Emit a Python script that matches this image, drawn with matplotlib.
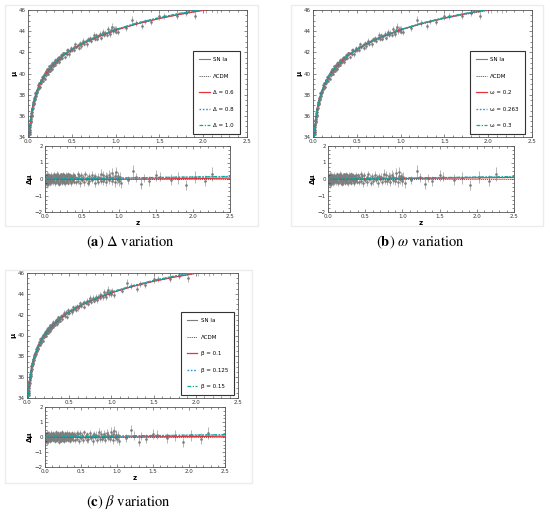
import numpy as np
import matplotlib
matplotlib.use('Agg')
from matplotlib import pyplot as plt
from matplotlib.lines import Line2D
from matplotlib.patches import Rectangle

# SN Ia sample: redshift, residual w.r.t. LCDM, error
z_low = [0.010, 0.012, 0.014, 0.015, 0.016, 0.018, 0.019, 0.021, 0.023, 0.024,
         0.026, 0.027, 0.029, 0.031, 0.032, 0.034, 0.036, 0.038, 0.040, 0.042,
         0.044, 0.046, 0.048, 0.050, 0.053, 0.055, 0.058, 0.060, 0.063, 0.066,
         0.069, 0.072, 0.075, 0.078, 0.081, 0.085, 0.088, 0.091, 0.095, 0.098]
dmu_low = [0.12, -0.18, 0.05, -0.25, 0.21, -0.08, 0.15, -0.31, 0.02, 0.18,
           -0.12, 0.27, -0.05, 0.09, -0.22, 0.14, -0.02, 0.24, -0.15, 0.07,
           -0.28, 0.11, 0.01, -0.09, 0.19, -0.17, 0.06, 0.22, -0.11, 0.03,
           -0.24, 0.16, -0.04, 0.10, -0.19, 0.25, -0.07, 0.13, -0.14, 0.04]
err_low = [0.14, 0.18, 0.12, 0.20, 0.15, 0.13, 0.17, 0.22, 0.12, 0.16,
           0.14, 0.19, 0.13, 0.15, 0.21, 0.12, 0.16, 0.18, 0.14, 0.13,
           0.20, 0.15, 0.12, 0.17, 0.14, 0.19, 0.13, 0.16, 0.15, 0.12,
           0.18, 0.14, 0.13, 0.17, 0.15, 0.20, 0.12, 0.16, 0.14, 0.13]

z_mid = [0.102, 0.106, 0.110, 0.114, 0.118, 0.122, 0.126, 0.130, 0.134, 0.138,
         0.142, 0.146, 0.150, 0.154, 0.158, 0.162, 0.166, 0.170, 0.174, 0.178,
         0.182, 0.186, 0.190, 0.194, 0.198, 0.202, 0.206, 0.210, 0.214, 0.218,
         0.222, 0.226, 0.230, 0.234, 0.238, 0.242, 0.246, 0.250, 0.254, 0.258,
         0.262, 0.266, 0.270, 0.274, 0.278, 0.282, 0.286, 0.290, 0.294, 0.298,
         0.303, 0.308, 0.313, 0.318, 0.323, 0.328, 0.333, 0.338, 0.343, 0.348,
         0.353, 0.358, 0.363, 0.368, 0.373, 0.378, 0.383, 0.388, 0.393, 0.398]
dmu_mid = [0.08, -0.21, 0.17, -0.06, 0.29, -0.14, 0.03, 0.22, -0.26, 0.11,
           -0.03, 0.19, -0.17, 0.06, 0.31, -0.09, 0.14, -0.23, 0.02, 0.25,
           -0.12, 0.09, -0.30, 0.16, -0.01, 0.21, -0.18, 0.05, 0.28, -0.07,
           0.12, -0.24, 0.18, -0.04, 0.33, -0.13, 0.07, -0.20, 0.23, 0.00,
           -0.16, 0.15, -0.27, 0.10, 0.26, -0.05, 0.13, -0.19, 0.20, -0.10,
           0.04, 0.30, -0.22, 0.09, -0.08, 0.17, -0.15, 0.24, -0.02, 0.11,
           -0.25, 0.19, 0.06, -0.12, 0.27, -0.06, 0.14, -0.18, 0.08, 0.22]
err_mid = [0.12, 0.14, 0.11, 0.15, 0.13, 0.12, 0.16, 0.11, 0.14, 0.13,
           0.12, 0.15, 0.13, 0.11, 0.17, 0.12, 0.14, 0.13, 0.12, 0.16,
           0.13, 0.11, 0.15, 0.12, 0.14, 0.13, 0.16, 0.12, 0.11, 0.14,
           0.15, 0.12, 0.13, 0.17, 0.12, 0.14, 0.11, 0.15, 0.13, 0.12,
           0.16, 0.13, 0.14, 0.12, 0.15, 0.13, 0.11, 0.14, 0.16, 0.12,
           0.13, 0.15, 0.12, 0.14, 0.13, 0.17, 0.12, 0.15, 0.14, 0.13,
           0.16, 0.12, 0.14, 0.15, 0.13, 0.12, 0.17, 0.14, 0.13, 0.15]

z_far = [0.41, 0.42, 0.43, 0.44, 0.45, 0.46, 0.47, 0.48, 0.49, 0.50,
         0.52, 0.53, 0.54, 0.55, 0.57, 0.58, 0.59, 0.60, 0.62, 0.63,
         0.64, 0.66, 0.67, 0.68, 0.70, 0.71, 0.72, 0.74, 0.75, 0.76,
         0.78, 0.79, 0.80, 0.82, 0.83, 0.84, 0.86, 0.87, 0.88, 0.90,
         0.91, 0.92, 0.94, 0.95, 0.96, 0.97, 0.98, 0.99, 1.00, 1.01]
dmu_far = [0.15, -0.20, 0.06, 0.28, -0.11, 0.19, -0.27, 0.02, 0.24, -0.08,
           0.13, -0.17, 0.31, -0.02, 0.09, -0.22, 0.18, -0.13, 0.04, 0.26,
           -0.06, 0.12, -0.25, 0.20, -0.01, 0.15, -0.18, 0.07, 0.33, -0.10,
           0.22, -0.15, 0.03, 0.17, -0.21, 0.10, 0.27, -0.05, 0.14, -0.12,
           0.36, 0.05, -0.19, 0.21, 0.42, -0.03, 0.16, 0.08, -0.14, 0.11]
err_far = [0.16, 0.19, 0.15, 0.21, 0.17, 0.18, 0.22, 0.16, 0.20, 0.17,
           0.19, 0.23, 0.18, 0.16, 0.21, 0.20, 0.18, 0.24, 0.17, 0.22,
           0.19, 0.21, 0.25, 0.18, 0.20, 0.23, 0.19, 0.22, 0.26, 0.20,
           0.24, 0.21, 0.23, 0.27, 0.22, 0.25, 0.28, 0.23, 0.26, 0.24,
           0.29, 0.25, 0.27, 0.30, 0.33, 0.26, 0.28, 0.31, 0.27, 0.30]

z_hst = [1.03, 1.12, 1.19, 1.23, 1.30, 1.34, 1.40, 1.50, 1.55, 1.70, 1.80, 1.91, 2.03, 2.16, 2.26]
dmu_hst = [-0.25, -0.08, 0.48, 0.10, -0.30, 0.05, -0.12, 0.22, 0.15, -0.05, 0.08, -0.35, 0.12, -0.10, 0.30]
err_hst = [0.30, 0.25, 0.35, 0.28, 0.32, 0.26, 0.30, 0.34, 0.29, 0.33, 0.36, 0.31, 0.38, 0.35, 0.40]

# LCDM distance modulus
z_grid = [0.005, 0.01, 0.02, 0.03, 0.05, 0.07, 0.1, 0.15, 0.2, 0.3, 0.4,
          0.5, 0.6, 0.7, 0.8, 1.0, 1.25, 1.5, 1.75, 2.0, 2.25, 2.5]
mu_lcdm = [31.67, 33.18, 34.69, 35.59, 36.73, 37.50, 38.31, 39.26, 39.96, 40.96, 41.69,
           42.26, 42.73, 43.14, 43.48, 44.10, 44.70, 45.19, 45.60, 45.95, 46.26, 46.54]

# model offsets from LCDM on z_grid
delta_06 = [0, 0, 0, 0, 0, -0.01, -0.01, -0.01, -0.02, -0.02, -0.02,
            -0.02, -0.02, -0.02, -0.01, -0.01, 0.00, 0.01, 0.02, 0.03, 0.04, 0.05]
delta_08 = [0, 0, 0, 0, 0, 0, 0.01, 0.01, 0.01, 0.02, 0.02,
            0.03, 0.03, 0.04, 0.04, 0.05, 0.07, 0.08, 0.10, 0.11, 0.13, 0.14]
delta_10 = [0, 0, 0, 0, 0, 0.01, 0.01, 0.01, 0.02, 0.02, 0.03,
            0.03, 0.04, 0.04, 0.05, 0.06, 0.08, 0.09, 0.11, 0.12, 0.14, 0.16]
omega_02 = [0, 0, 0, 0, 0, 0, 0, 0, 0.01, 0.01, 0.01,
            0.01, 0.02, 0.02, 0.02, 0.03, 0.04, 0.05, 0.06, 0.07, 0.08, 0.09]
omega_0263 = [0, 0, 0, 0, 0, 0, 0.01, 0.01, 0.01, 0.01, 0.02,
              0.02, 0.03, 0.03, 0.04, 0.05, 0.06, 0.07, 0.09, 0.10, 0.11, 0.12]
omega_03 = [0, 0, 0, 0, 0, 0, 0.01, 0.01, 0.01, 0.02, 0.02,
            0.03, 0.03, 0.04, 0.04, 0.06, 0.07, 0.09, 0.10, 0.12, 0.13, 0.14]
beta_01 = [0, 0, 0, 0, 0, -0.01, -0.01, -0.01, -0.01, -0.02, -0.02,
           -0.02, -0.01, -0.01, -0.01, 0.00, 0.01, 0.02, 0.02, 0.03, 0.04, 0.05]
beta_0125 = [0, 0, 0, 0, 0, 0, 0.01, 0.01, 0.01, 0.02, 0.02,
             0.03, 0.03, 0.04, 0.04, 0.05, 0.07, 0.08, 0.10, 0.11, 0.13, 0.14]
beta_015 = [0, 0, 0, 0, 0, 0.01, 0.01, 0.01, 0.02, 0.02, 0.03,
            0.03, 0.04, 0.04, 0.05, 0.07, 0.08, 0.10, 0.11, 0.13, 0.14, 0.16]

labels_a = ['Δ = 0.6', 'Δ = 0.8', 'Δ = 1.0']
labels_b = ['ω = 0.2', 'ω = 0.263', 'ω = 0.3']
labels_c = ['β = 0.1', 'β = 0.125', 'β = 0.15']

W, H = 550, 514
GRAY = '#7d7d7d'
STYLES = [dict(color='#e0353b', ls='-', lw=0.9),
          dict(color='#2b95d6', ls=(0, (1.2, 1.2)), lw=1.0),
          dict(color='#17a88c', ls=(0, (3, 1.2, 1, 1.2)), lw=0.9)]


def px_box(x0, y0, x1, y1):
    return [x0 / W, 1 - y1 / H, (x1 - x0) / W, (y1 - y0) / H]


def style_axes(ax, xmaj, ymaj, xmin, ymin):
    ax.set_xticks(xmaj)
    ax.set_yticks(ymaj)
    ax.set_xticks(xmin, minor=True)
    ax.set_yticks(ymin, minor=True)
    ax.tick_params(which='both', direction='in', top=True, right=True,
                   labelsize=4, width=0.4, colors='#333333', pad=1.5)
    ax.tick_params(which='major', length=2.2)
    ax.tick_params(which='minor', length=1.2)
    for s in ax.spines.values():
        s.set_linewidth(0.6)
        s.set_color('#555555')


def draw_panel(fig, frame, main_box, res_box, legend_anchor, caption_xy, caption,
               labels, offsets, z, dmu, err):
    fig.patches.append(Rectangle((frame[0] / W, 1 - frame[3] / H),
                                 (frame[2] - frame[0]) / W, (frame[3] - frame[1]) / H,
                                 transform=fig.transFigure, fill=False,
                                 edgecolor='#ececec', lw=1.0))
    mu_sn = np.interp(z, z_grid, mu_lcdm) + dmu

    ax = fig.add_axes(px_box(*main_box))
    ax.errorbar(z, mu_sn, yerr=err, fmt='o', ms=0.9, color=GRAY, ecolor=GRAY,
                elinewidth=0.4, capsize=0, zorder=1)
    ax.plot(z_grid, mu_lcdm, color='#555555', ls=(0, (1.5, 1)), lw=0.6, zorder=2)
    for off, st in zip(offsets, STYLES):
        ax.plot(z_grid, np.array(mu_lcdm) + np.array(off), zorder=3, **st)
    ax.set_xlim(0, 2.5)
    ax.set_ylim(34, 46)
    style_axes(ax, np.arange(0, 2.51, 0.5), np.arange(34, 46.1, 2),
               np.arange(0, 2.51, 0.1), np.arange(34, 46.1, 0.5))
    ax.set_ylabel('μ', fontsize=5, labelpad=1, fontweight='bold')

    handles = [Line2D([], [], color=GRAY, lw=0.8, label='SN Ia'),
               Line2D([], [], color='#555555', ls=(0, (1.5, 1)), lw=0.6, label='ΛCDM')]
    for lab, st in zip(labels, STYLES):
        handles.append(Line2D([], [], label=lab, **st))
    leg = ax.legend(handles=handles, loc='lower right', bbox_to_anchor=legend_anchor,
                    fontsize=4, labelspacing=2.05, handlelength=1.9, handletextpad=0.6,
                    borderpad=1.1, borderaxespad=0.3, fancybox=False,
                    edgecolor='#333333', framealpha=1)
    leg.get_frame().set_linewidth(0.8)

    rx = fig.add_axes(px_box(*res_box))
    rx.errorbar(z, dmu, yerr=err, fmt='o', ms=0.9, color=GRAY, ecolor=GRAY,
                elinewidth=0.4, capsize=0, zorder=1)
    rx.plot(z_grid, np.zeros(len(z_grid)), color='#555555', ls=(0, (1.5, 1)), lw=0.6, zorder=2)
    for off, st in zip(offsets, STYLES):
        rx.plot(z_grid, off, zorder=3, **st)
    rx.set_xlim(0, 2.5)
    rx.set_ylim(-2, 2)
    style_axes(rx, np.arange(0, 2.51, 0.5), np.arange(-2, 2.1, 1),
               np.arange(0, 2.51, 0.1), np.arange(-2, 2.1, 0.25))
    rx.set_ylabel('Δμ', fontsize=5, labelpad=1, fontweight='bold')
    rx.set_xlabel('z', fontsize=5, labelpad=1, fontweight='bold')

    fig.text(caption_xy[0] / W, 1 - caption_xy[1] / H, caption, ha='center', va='center',
             fontsize=10.5, family='STIXGeneral')


def main():
    plt.rcParams['mathtext.fontset'] = 'stix'
    z = np.array(z_low + z_mid + z_far + z_hst)
    dmu = np.array(dmu_low + dmu_mid + dmu_far + dmu_hst)
    err = np.array(err_low + err_mid + err_far + err_hst)

    fig = plt.figure(figsize=(W / 100, H / 100), dpi=100)

    draw_panel(fig, (5, 5, 258, 226), (28, 10, 247, 137), (45, 146, 230, 212),
               (0.975, 0.01), (130, 242), r'($\mathbf{a}$) $\Delta$ variation',
               labels_a, [delta_06, delta_08, delta_10], z, dmu, err)
    draw_panel(fig, (291, 5, 543, 226), (313, 10, 532, 137), (328, 146, 514, 212),
               (0.975, 0.01), (420, 242), r'($\mathbf{b}$) $\omega$ variation',
               labels_b, [omega_02, omega_0263, omega_03], z, dmu, err)
    draw_panel(fig, (5, 270, 252, 483), (27, 273, 238, 398), (45, 407, 225, 467),
               (0.99, 0.01), (128, 502), r'($\mathbf{c}$) $\beta$ variation',
               labels_c, [beta_01, beta_0125, beta_015], z, dmu, err)

    fig.savefig('out.png', dpi=100)


if __name__ == '__main__':
    main()
